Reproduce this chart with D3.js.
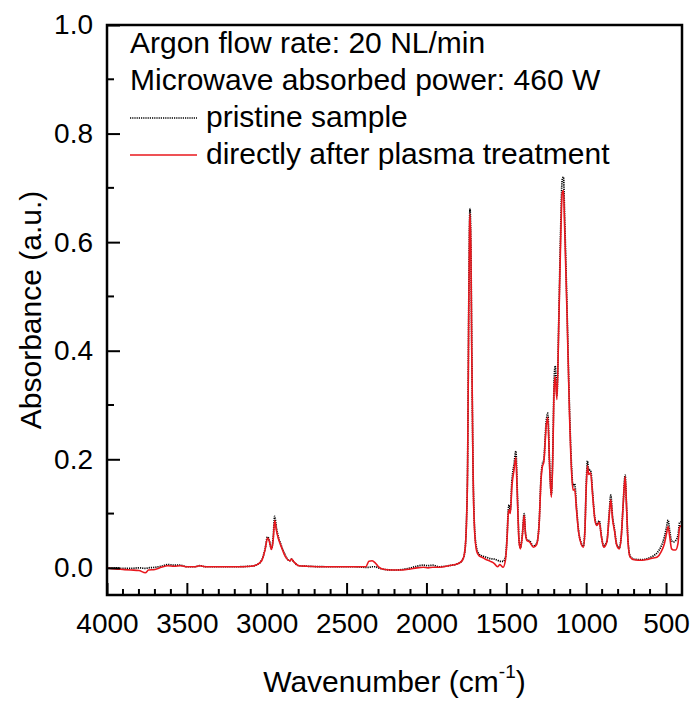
<!DOCTYPE html>
<html>
<head>
<meta charset="utf-8">
<script src="https://cdn.jsdelivr.net/npm/d3@7"></script>
<style>
  html, body { margin: 0; padding: 0; background: #fff; }
  svg { display: block; font-family: "Liberation Sans", Arial, sans-serif; }
</style>
</head>
<body>
<svg id="chart" width="692" height="702"></svg>
<script>
// ---- data ----
const wavenumber = [4000,3950,3900,3850,3800,3760,3740,3700,3660,3620,3580,3540,3500,3450,3420,3380,3300,3200,3100,3060,3030,3010,2995,2985,2970,2960,2950,2940,2928,2910,2890,2875,2855,2845,2830,2800,2750,2600,2450,2380,2360,2340,2320,2300,2260,2200,2150,2100,2060,2020,1990,1960,1920,1860,1800,1775,1760,1750,1742,1736,1730,1727,1722,1716,1708,1698,1685,1670,1655,1630,1600,1575,1555,1540,1520,1505,1495,1488,1482,1475,1465,1452,1440,1432,1420,1412,1400,1388,1380,1370,1355,1330,1310,1295,1282,1275,1265,1250,1240,1230,1218,1210,1200,1194,1183,1172,1160,1150,1142,1135,1120,1105,1092,1082,1072,1060,1048,1030,1018,1008,1000,992,984,972,960,945,933,918,905,890,870,856,846,835,822,810,793,780,768,756,748,738,725,700,650,610,580,555,530,510,497,487,478,465,452,440,425,415,402];
const pristine = [0.000,0.000,-0.001,-0.001,0.000,-0.001,0.000,0.001,0.003,0.006,0.005,0.005,0.002,0.002,0.004,0.002,0.002,0.002,0.003,0.006,0.015,0.035,0.057,0.052,0.035,0.055,0.095,0.075,0.058,0.042,0.027,0.018,0.013,0.016,0.011,0.004,0.003,0.002,0.002,0.001,0.001,0.002,0.002,0.000,-0.003,-0.004,-0.003,0.000,0.003,0.005,0.004,0.005,0.002,0.004,0.008,0.014,0.030,0.080,0.200,0.450,0.640,0.662,0.600,0.400,0.180,0.070,0.035,0.025,0.022,0.020,0.017,0.016,0.014,0.012,0.012,0.020,0.060,0.105,0.116,0.105,0.160,0.190,0.215,0.150,0.050,0.037,0.060,0.100,0.065,0.052,0.050,0.040,0.045,0.080,0.170,0.190,0.200,0.270,0.285,0.200,0.135,0.200,0.350,0.372,0.318,0.450,0.620,0.715,0.720,0.650,0.480,0.300,0.190,0.150,0.155,0.110,0.070,0.045,0.040,0.070,0.150,0.197,0.180,0.180,0.140,0.090,0.080,0.087,0.060,0.040,0.050,0.100,0.134,0.095,0.070,0.045,0.037,0.060,0.120,0.171,0.120,0.050,0.022,0.016,0.015,0.018,0.022,0.028,0.040,0.057,0.075,0.088,0.070,0.050,0.048,0.050,0.060,0.083,0.085];
const plasma = [0.000,-0.002,-0.003,-0.004,-0.005,-0.009,-0.004,-0.003,0.001,0.004,0.003,0.004,0.002,0.002,0.004,0.002,0.002,0.002,0.003,0.006,0.014,0.034,0.055,0.050,0.034,0.050,0.087,0.070,0.055,0.040,0.025,0.017,0.013,0.016,0.011,0.004,0.003,0.002,0.002,0.002,0.012,0.013,0.009,0.002,-0.003,-0.004,-0.004,-0.002,0.000,0.001,0.000,0.001,0.001,0.004,0.008,0.014,0.030,0.078,0.195,0.440,0.630,0.652,0.590,0.390,0.175,0.065,0.030,0.022,0.020,0.016,0.012,0.008,0.002,0.006,0.001,0.015,0.055,0.098,0.107,0.100,0.150,0.180,0.203,0.140,0.048,0.035,0.058,0.097,0.062,0.050,0.048,0.038,0.043,0.077,0.165,0.185,0.195,0.262,0.277,0.195,0.130,0.190,0.335,0.352,0.310,0.440,0.600,0.690,0.695,0.630,0.470,0.290,0.180,0.143,0.145,0.105,0.067,0.043,0.038,0.067,0.145,0.188,0.172,0.175,0.135,0.088,0.078,0.084,0.058,0.038,0.048,0.095,0.126,0.090,0.067,0.043,0.035,0.058,0.118,0.168,0.118,0.048,0.020,0.015,0.014,0.016,0.018,0.020,0.030,0.045,0.063,0.076,0.060,0.035,0.033,0.033,0.045,0.075,0.078];

const xTicks = [4000,3500,3000,2500,2000,1500,1000,500];
const yTicks = [0.0,0.2,0.4,0.6,0.8,1.0];
const legendInfo = ["Argon flow rate: 20 NL/min", "Microwave absorbed power: 460 W"];
const seriesNames = ["pristine sample", "directly after plasma treatment"];

// ---- layout ----
const svg = d3.select("#chart");
const W = 692, H = 702;
const m = {left: 107, top: 25, right: 10, bottom: 107};
const iw = W - m.left - m.right, ih = H - m.top - m.bottom;

const x = d3.scaleLinear().domain([4000, 400]).range([m.left, m.left + iw]);
const y = d3.scaleLinear().domain([-0.05, 1.0]).range([m.top + ih, m.top]);

const g = svg.append("g");

svg.append("defs").append("clipPath").attr("id", "clip")
  .append("rect").attr("x", m.left).attr("y", m.top).attr("width", iw).attr("height", ih);

const data = wavenumber.map((w, i) => ({w, a: pristine[i], b: plasma[i]}));

const lineA = d3.line().x(d => x(d.w)).y(d => y(d.a)).curve(d3.curveMonotoneX);
const lineB = d3.line().x(d => x(d.w)).y(d => y(d.b)).curve(d3.curveMonotoneX);

const plot = g.append("g").attr("clip-path", "url(#clip)");
plot.append("path").datum(data).attr("d", lineA)
  .attr("fill", "none").attr("stroke", "#000").attr("stroke-width", 1.7)
  .attr("stroke-dasharray", "1.2,1");
plot.append("path").datum(data).attr("d", lineB)
  .attr("fill", "none").attr("stroke", "#e8171d").attr("stroke-width", 1.6);

// bottom axis
const xMinor = d3.range(4000, 399, -100);
const xAxis = d3.axisBottom(x).tickValues(xTicks).tickSize(-12).tickPadding(18)
  .tickFormat(d3.format("d"));
const gx = g.append("g").attr("transform", `translate(0,${m.top + ih})`).call(xAxis);
gx.selectAll(".tick line").attr("stroke", "#000").attr("stroke-width", 2);
gx.select(".domain").remove();
gx.selectAll("text").attr("font-size", 28).attr("fill", "#000").attr("dy", "0.71em");
gx.append("g").selectAll("line").data(xMinor.filter(v => xTicks.indexOf(v) < 0)).join("line")
  .attr("x1", d => x(d)).attr("x2", d => x(d)).attr("y1", 0).attr("y2", -6)
  .attr("stroke", "#000").attr("stroke-width", 2);

// left axis
const yMinor = [0.1, 0.3, 0.5, 0.7, 0.9];
const yAxis = d3.axisLeft(y).tickValues(yTicks).tickSize(-13).tickPadding(14)
  .tickFormat(d3.format(".1f"));
const gy = g.append("g").attr("transform", `translate(${m.left},0)`).call(yAxis);
gy.selectAll(".tick line").attr("stroke", "#000").attr("stroke-width", 2);
gy.select(".domain").remove();
gy.selectAll("text").attr("font-size", 28).attr("fill", "#000");
gy.append("g").selectAll("line").data(yMinor).join("line")
  .attr("x1", 0).attr("x2", 7).attr("y1", d => y(d)).attr("y2", d => y(d))
  .attr("stroke", "#000").attr("stroke-width", 2);

// frame
g.append("rect").attr("x", m.left).attr("y", m.top).attr("width", iw).attr("height", ih)
  .attr("fill", "none").attr("stroke", "#000").attr("stroke-width", 2.5);

// axis titles
g.append("text").attr("x", m.left + iw / 2).attr("y", 692).attr("text-anchor", "middle")
  .attr("font-size", 30).attr("fill", "#000")
  .call(t => {
    t.append("tspan").text("Wavenumber (cm");
    t.append("tspan").attr("font-size", 19).attr("dy", -14).text("-1");
    t.append("tspan").attr("dy", 14).text(")");
  });
g.append("text").attr("transform", `translate(41,${m.top + ih / 2}) rotate(-90)`)
  .attr("text-anchor", "middle").attr("font-size", 30).attr("fill", "#000")
  .text("Absorbance (a.u.)");

// legend
const lg = g.append("g");
const base = [53, 90, 127, 164];
legendInfo.forEach((s, i) => {
  lg.append("text").attr("x", 130).attr("y", base[i]).attr("font-size", 30).attr("fill", "#000").text(s);
});
const colors = ["#000", "#e8171d"];
seriesNames.forEach((s, i) => {
  const yy = base[i + 2] - 9;
  lg.append("line").attr("x1", 130).attr("x2", 197).attr("y1", yy).attr("y2", yy)
    .attr("stroke", colors[i]).attr("stroke-width", i === 0 ? 1.6 : 1.5)
    .attr("stroke-dasharray", i === 0 ? "1.2,1" : null);
  lg.append("text").attr("x", 206).attr("y", base[i + 2]).attr("font-size", 30).attr("fill", "#000").text(s);
});
</script>
</body>
</html>
